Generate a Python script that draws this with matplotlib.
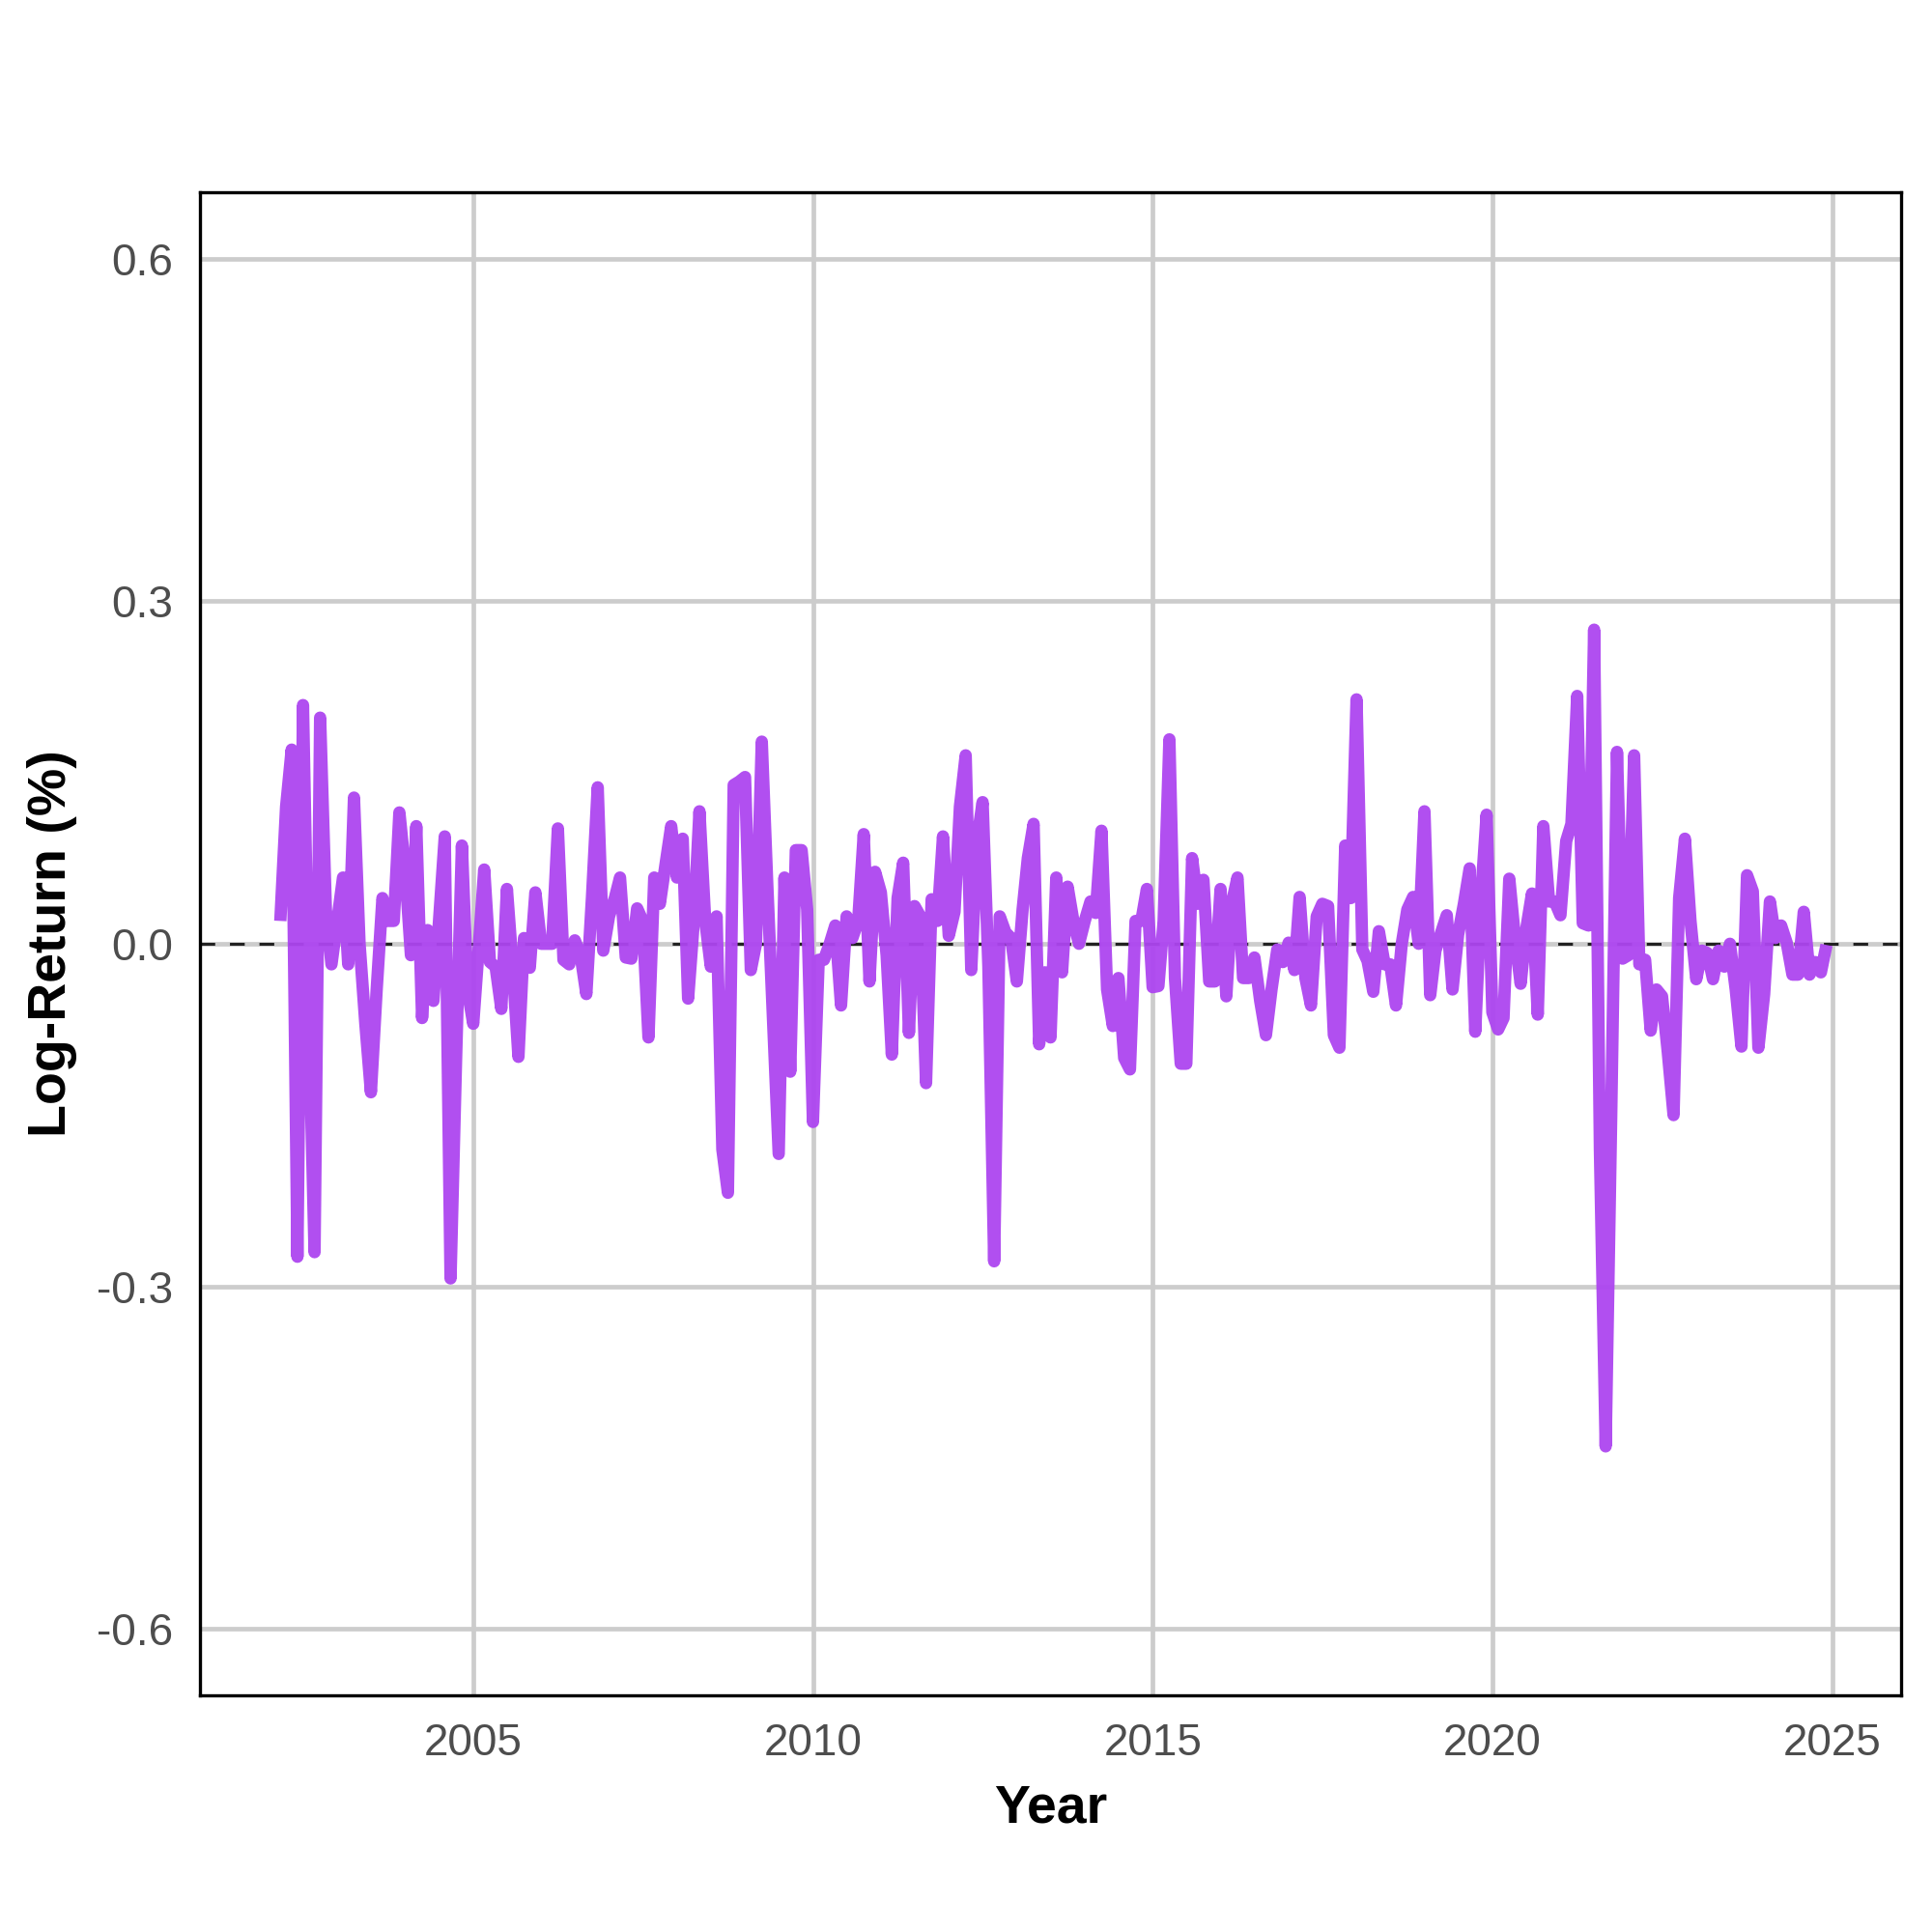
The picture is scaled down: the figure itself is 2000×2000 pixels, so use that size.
import numpy as np
import pandas as pd
import matplotlib
matplotlib.use("Agg")
import matplotlib.pyplot as plt
import matplotlib.dates as mdates

# monthly log-returns, Mar 2002 .. Dec 2024
start_month = "2002-03-01"
log_returns = [
    0.02, 0.12, 0.17, -0.274, 0.209, -0.06, -0.27, 0.198, 0.03, -0.018,
    0.02, 0.058, -0.018, 0.128, 0.0, -0.07, -0.13, -0.04, 0.04, 0.02,
    0.02, 0.115, 0.065, -0.01, 0.103, -0.065, 0.012, -0.05, 0.02, 0.094,
    -0.293, -0.1, 0.086, -0.04, -0.07, 0.0, 0.065, -0.016, -0.02, -0.057,
    0.048, -0.02, -0.099, 0.005, -0.021, 0.045, 0.0, 0.0, 0.0, 0.101,
    -0.014, -0.018, 0.003, -0.01, -0.044, 0.04, 0.137, -0.006, 0.024, 0.04,
    0.058, -0.012, -0.013, 0.031, 0.02, -0.082, 0.058, 0.035, 0.07, 0.103,
    0.058, 0.092, -0.048, 0.02, 0.116, 0.02, -0.02, 0.024, -0.18, -0.218,
    0.139, 0.142, 0.146, -0.023, 0.0, 0.177, 0.05, -0.07, -0.184, 0.058,
    -0.112, 0.082, 0.082, 0.03, -0.156, -0.014, -0.014, 0.0, 0.016, -0.054,
    0.024, 0.005, 0.02, 0.096, -0.033, 0.063, 0.045, -0.01, -0.097, 0.04,
    0.071, -0.078, 0.033, 0.024, -0.122, 0.039, 0.02, 0.094, 0.007, 0.028,
    0.12, 0.165, -0.023, 0.09, 0.124, -0.02, -0.278, 0.024, 0.01, 0.005,
    -0.033, 0.03, 0.075, 0.105, -0.088, -0.025, -0.082, 0.058, -0.025, 0.05,
    0.02, 0.0, 0.02, 0.037, 0.027, 0.099, -0.04, -0.072, -0.03, -0.1,
    -0.11, 0.02, 0.02, 0.048, -0.038, -0.037, 0.02, 0.179, -0.03, -0.105,
    -0.105, 0.075, 0.035, 0.056, -0.033, -0.033, 0.048, -0.046, 0.035, 0.058,
    -0.03, -0.03, -0.012, -0.05, -0.08, -0.04, -0.005, -0.016, 0.001, -0.023,
    0.041, -0.03, -0.054, 0.024, 0.035, 0.033, -0.08, -0.091, 0.086, 0.04,
    0.214, -0.005, -0.015, -0.042, 0.011, -0.018, -0.018, -0.054, 0.0, 0.03,
    0.041, 0.0, 0.116, -0.045, -0.006, 0.01, 0.025, -0.04, 0.008, 0.035,
    0.066, -0.077, 0.04, 0.113, -0.06, -0.075, -0.065, 0.057, 0.006, -0.035,
    0.013, 0.044, -0.062, 0.103, 0.037, 0.037, 0.025, 0.09, 0.105, 0.217,
    0.018, 0.016, 0.275, -0.18, -0.44, -0.15, 0.168, -0.013, -0.01, 0.165,
    -0.018, -0.014, -0.076, -0.04, -0.046, -0.095, -0.15, 0.04, 0.092, 0.02,
    -0.031, -0.006, -0.008, -0.031, -0.006, -0.02, 0.0, -0.04, -0.09, 0.06,
    0.046, -0.091, -0.044, 0.037, 0.005, 0.016, 0.001, -0.027, -0.027, 0.028,
    -0.027, -0.016, -0.025, -0.001,
]
dates = pd.date_range(start_month, periods=len(log_returns), freq="MS")

y_ticks = [-0.6, -0.3, 0.0, 0.3, 0.6]
x_tick_years = [2005, 2010, 2015, 2020, 2025]

plt.rcParams["font.family"] = ["Liberation Sans", "DejaVu Sans"]

fig = plt.figure(figsize=(10, 10), dpi=200)
ax = fig.add_axes([0.1033, 0.1225, 0.8807, 0.778])

ax.axhline(0, color="#222222", lw=1.1, linestyle=(0, (5, 5)), zorder=2)
ax.plot(dates, log_returns, color="#AD45F0", alpha=0.95, lw=4.6,
        solid_joinstyle="round", solid_capstyle="butt", zorder=3)

ax.set_ylim(-0.658, 0.658)
ax.set_xlim(pd.Timestamp("2000-12-22"), pd.Timestamp("2026-01-06"))
ax.set_yticks(y_ticks)
ax.set_yticklabels([f"{v:.1f}" for v in y_ticks])
ax.set_xticks([mdates.date2num(pd.Timestamp(f"{y}-01-01")) for y in x_tick_years])
ax.set_xticklabels([str(y) for y in x_tick_years])

ax.grid(True, color="#CCCCCC", lw=1.7, zorder=0)
ax.set_axisbelow(True)
for s in ax.spines.values():
    s.set_color("black")
    s.set_linewidth(1.2)
    s.set_zorder(5)

ax.tick_params(length=0, pad=10, labelsize=16.5, labelcolor="#4D4D4D")
ax.set_xlabel("Year", fontsize=20, fontweight="bold", labelpad=7)
ax.set_ylabel("Log-Return (%)", fontsize=20, fontweight="bold", labelpad=7)

fig.savefig("out.png", dpi=200, facecolor="white")
